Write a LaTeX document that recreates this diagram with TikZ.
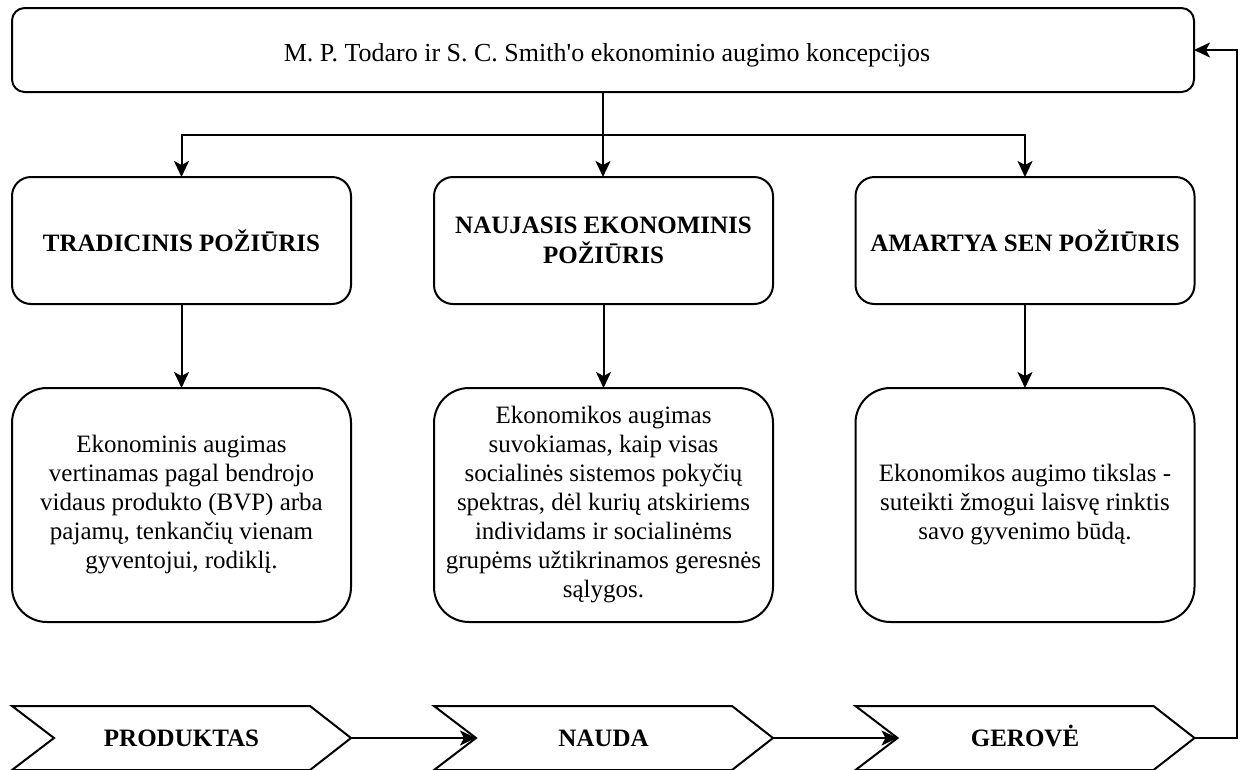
\documentclass[tikz,border=0pt]{standalone}
\usepackage{fontspec}
\setmainfont{Liberation Serif}
\usetikzlibrary{arrows.meta,calc}
\begin{document}
\begin{tikzpicture}[x=1pt,y=-1pt,
  every node/.style={inner sep=0pt,outer sep=0pt,align=center,font=\fontsize{25}{29}\selectfont},
  ln/.style={line width=2pt,draw=black},
  topbox/.style={ln,rounded corners=12.6pt,minimum width=1182pt,minimum height=84pt,font=\fontsize{26}{30}\selectfont,text height=22pt,text depth=0pt},
  titlebox/.style={ln,rounded corners=19pt,minimum width=339pt,minimum height=127pt,font=\fontsize{25}{30}\selectfont\bfseries},
  textbox/.style={ln,rounded corners=35pt,minimum width=339pt,minimum height=234pt},
  chevlabel/.style={minimum width=339pt,minimum height=64pt,font=\fontsize{25}{29}\selectfont\bfseries,text height=17pt,text depth=1pt},
  chevshape/.style={ln,line join=miter},
  arr/.style={ln,-{Stealth[length=16pt,width=15pt,inset=4pt]}}
]
\useasboundingbox (0,0) rectangle (1240,769);

\node[topbox] (top) at (603,50) {\hspace*{8pt}M. P. Todaro ir S. C. Smith\textquotesingle o ekonominio augimo koncepcijos};

\node[titlebox] (t1) at (181.5,240.5) {TRADICINIS POŽIŪRIS};
\node[titlebox] (t2) at (603.5,240.5) {NAUJASIS EKONOMINIS\\POŽIŪRIS};
\node[titlebox] (t3) at (1025,240.5) {AMARTYA SEN POŽIŪRIS};

\node[textbox] (b1) at (181.5,505) {Ekonominis augimas\\vertinamas pagal bendrojo\\vidaus produkto (BVP) arba\\pajamų, tenkančių vienam\\gyventojui, rodiklį.};
\node[textbox] (b2) at (603.5,505) {Ekonomikos augimas\\suvokiamas, kaip visas\\socialinės sistemos pokyčių\\spektras, dėl kurių atskiriems\\individams ir socialinėms\\grupėms užtikrinamos geresnės\\sąlygos.};
\node[textbox] (b3) at (1025,505) {Ekonomikos augimo tikslas -\\suteikti žmogui laisvę rinktis\\savo gyvenimo būdą.};

\node[chevlabel] (p1) at (181.5,738) {PRODUKTAS};
\node[chevlabel] (p2) at (603.5,738) {NAUDA};
\node[chevlabel] (p3) at (1025,738) {GEROVĖ};

\foreach \c in {p1,p2,p3}{
  \draw[chevshape] (\c.north west) -- ($(\c.north east)+(-41,0)$) -- (\c.east)
    -- ($(\c.south east)+(-41,0)$) -- (\c.south west) -- ($(\c.west)+(42,0)$) -- cycle;
}
\coordinate (n2) at ($(p2.west)+(42,0)$);
\coordinate (n3) at ($(p3.west)+(42,0)$);
\coordinate (branch) at (603,135);
\coordinate (rt) at (1237,738);

\draw[arr] (top.south) -- (top.south |- t2.north);
\draw[arr] (top.south) -- (branch) -| (t1.north);
\draw[arr] (top.south) -- (branch) -| (t3.north);

\draw[arr] (t1.south) -- (b1.north);
\draw[arr] (t2.south) -- (b2.north);
\draw[arr] (t3.south) -- (b3.north);

\draw[arr] (p1.east) -- (n2);
\draw[arr] (p2.east) -- (n3);
\draw[arr] (p3.east) -- (rt) |- (top.east);
\end{tikzpicture}
\end{document}
